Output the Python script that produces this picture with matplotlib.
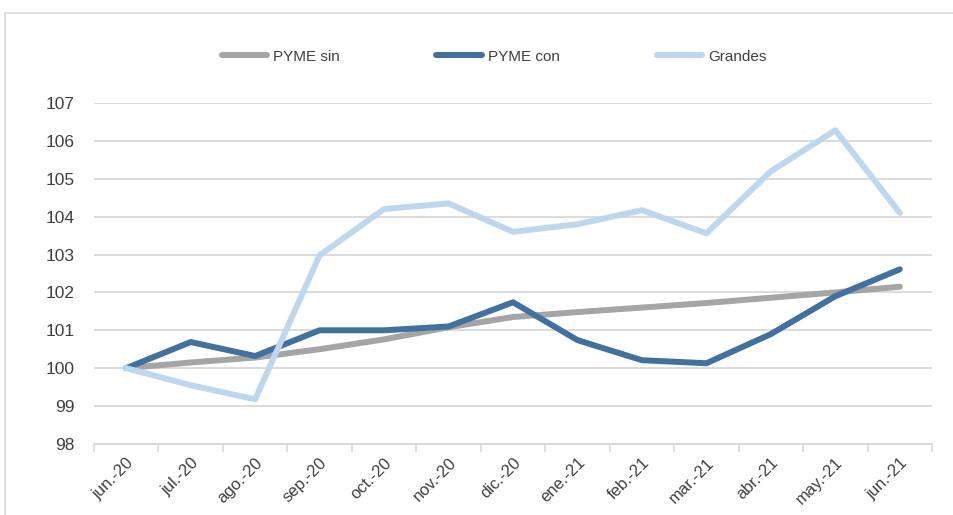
import matplotlib.pyplot as plt
from matplotlib.patches import Rectangle

# data
months = ['jun.-20', 'jul.-20', 'ago.-20', 'sep.-20', 'oct.-20', 'nov.-20', 'dic.-20',
          'ene.-21', 'feb.-21', 'mar.-21', 'abr.-21', 'may.-21', 'jun.-21']
pyme_sin = [100.0, 100.15, 100.28, 100.5, 100.76, 101.08, 101.35,
            101.48, 101.6, 101.72, 101.86, 102.0, 102.15]
pyme_con = [100.0, 100.69, 100.32, 101.0, 101.0, 101.1, 101.74,
            100.74, 100.21, 100.13, 100.9, 101.9, 102.61]
grandes = [100.0, 99.55, 99.18, 102.98, 104.2, 104.35, 103.6,
           103.8, 104.17, 103.56, 105.2, 106.28, 104.1]
yticks = list(range(98, 108))

plt.rcParams['font.family'] = ['Liberation Sans', 'DejaVu Sans']

fig = plt.figure(figsize=(9.54, 5.15), dpi=100)
ax = fig.add_axes([0.0985, 0.138, 0.8785, 0.662])

# outer chart frame
fig.patches.append(Rectangle((0.005, -0.05), 1.1, 1.025, transform=fig.transFigure,
                             fill=False, edgecolor='#D9D9D9', linewidth=1.2))

x = range(len(months))
lw = 4.3
ax.plot(x, pyme_sin, color='#A5A5A5', lw=lw, label='PYME sin', solid_capstyle='round')
ax.plot(x, pyme_con, color='#41719C', lw=lw, label='PYME con', solid_capstyle='round')
ax.plot(x, grandes, color='#BDD7EE', lw=lw, label='Grandes', solid_capstyle='round')

ax.set_xlim(-0.5, len(months) - 0.5)
ax.set_ylim(98, 107)
ax.set_yticks(yticks)
ax.set_yticklabels([str(v) for v in yticks], fontsize=12.5, color='#404040')
ax.tick_params(axis='y', length=0, pad=14)
ax.grid(axis='y', color='#D9D9D9', linewidth=1.3)
ax.set_axisbelow(True)

ax.set_xticks(list(x))
ax.set_xticklabels(months, rotation=45, ha='right', rotation_mode='anchor',
                   fontsize=12, color='#404040')
ax.tick_params(axis='x', which='major', length=0, pad=8)
ax.set_xticks([i - 0.5 for i in range(len(months) + 1)], minor=True)
ax.tick_params(axis='x', which='minor', length=6, color='#D9D9D9', width=1.2)

for s in ['top', 'right', 'left']:
    ax.spines[s].set_visible(False)
ax.spines['bottom'].set_color('#D9D9D9')
ax.spines['bottom'].set_linewidth(1.3)

fig.legend(loc='center', bbox_to_anchor=(0.518, 0.89), ncol=3, frameon=False,
           fontsize=11, handlelength=3.0, handletextpad=0.4, columnspacing=6.3,
           labelcolor='#404040')

fig.savefig('out.png', dpi=100)
